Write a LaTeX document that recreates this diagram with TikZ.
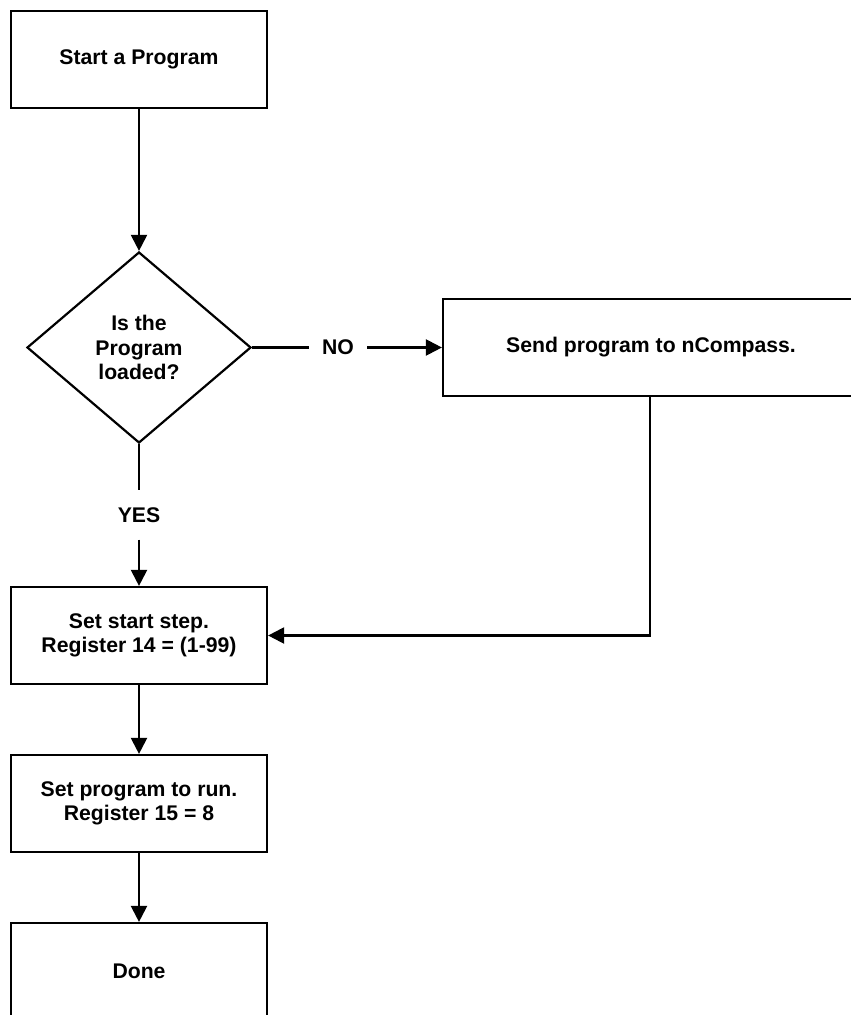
\documentclass[tikz,border=0pt]{standalone}
\usepackage{fontspec}
\setmainfont{Liberation Sans}
\usepackage{tikz}
\usetikzlibrary{shapes.geometric}
\usetikzlibrary{arrows.meta}

\begin{document}
\begin{tikzpicture}[x=0.5pt, y=-0.5pt, line width=1.1pt,
        font=\fontsize{10.6}{12.2}\selectfont\bfseries,
        stepbox/.style={shape=rectangle, draw, align=center, minimum width=128pt, minimum height=48.5pt, inner sep=0pt},
        decision/.style={shape=diamond, draw, align=center, minimum width=112pt, minimum height=95.5pt, inner sep=0pt},
        lbl/.style={inner xsep=6pt, inner ysep=8pt},
        flow/.style={-{Triangle[length=8pt, width=8pt]}}]
    \useasboundingbox (0,0) rectangle (850,1015);

    \node (start)    [stepbox] at (139, 59.5)  {Start a Program};
    \node (loaded)   [decision] at (139, 347.5) {Is the\\Program\\loaded?};
    \node (send)     [stepbox, minimum width=208pt] at (651, 347.5) {Send program to nCompass.};
    \node (setstart) [stepbox] at (139, 635.5) {Set start step.\\Register 14 = (1-99)};
    \node (setrun)   [stepbox] at (139, 803.5) {Set program to run.\\Register 15 = 8};
    \node (done)     [stepbox] at (139, 971.5) {Done};

    \node (no)  [lbl] at (338, 347.5) {NO};
    \node (yes) [lbl] at (139, 515)   {YES};

    \draw[flow] (start) -- (loaded);
    \draw (loaded.east) -- (no);
    \draw[flow] (no) -- (send.west);
    \draw (loaded.south) -- (yes);
    \draw[flow] (yes) -- (setstart);
    \draw[flow] (send.south -| 650, 0) |- (setstart.east);
    \draw[flow] (setstart) -- (setrun);
    \draw[flow] (setrun) -- (done);
\end{tikzpicture}
\end{document}
